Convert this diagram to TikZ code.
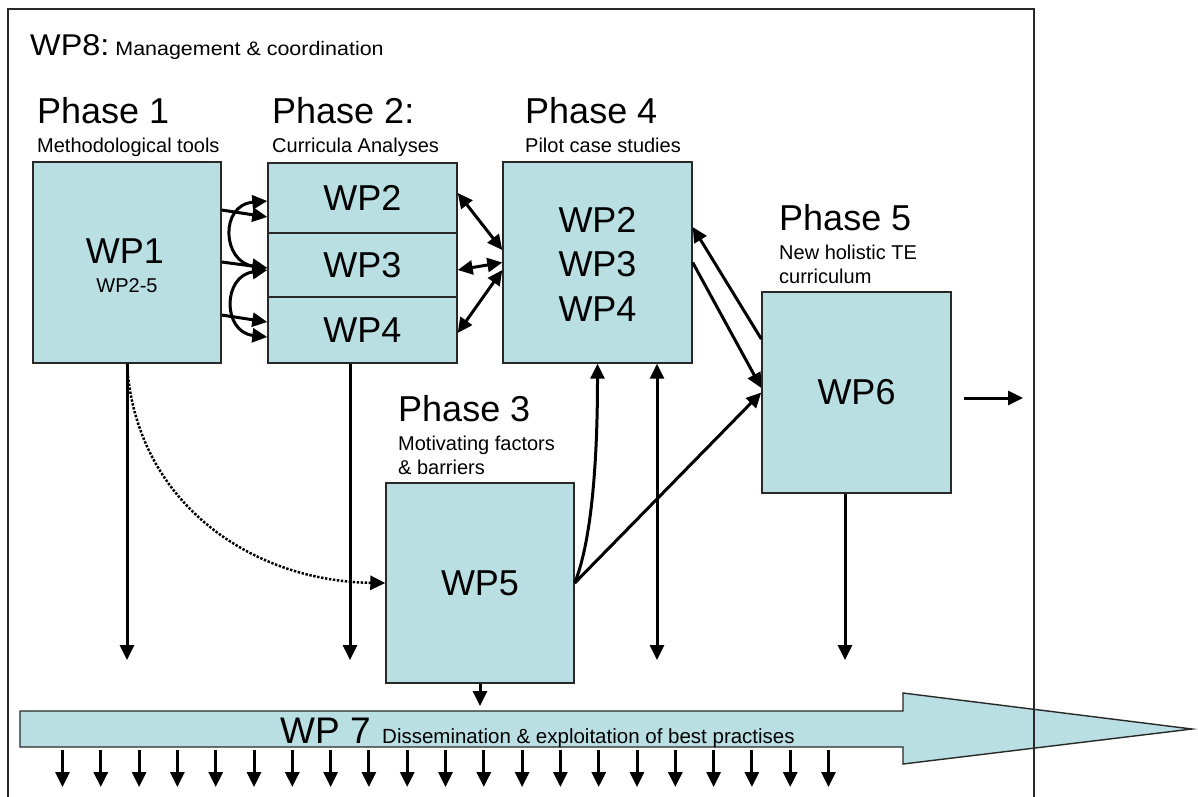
\documentclass[tikz,border=0pt]{standalone}
\usepackage{fontspec}
\usepackage{graphicx}
\setmainfont{Liberation Sans}
\usetikzlibrary{arrows.meta,calc}
\definecolor{boxfill}{RGB}{185,223,227}
\definecolor{boxline}{RGB}{40,40,40}
\newcommand\fsz[1]{\fontsize{#1}{#1}\selectfont}

\begin{document}
\begin{tikzpicture}[x=1pt,y=-1pt,
  wpbox/.style={draw=boxline,line width=1.4pt,fill=boxfill,inner sep=0pt,font=\fsz{36}},
  flow/.style={line width=3pt,-{Triangle[length=15pt,width=14pt]}},
  twoway/.style={line width=3pt,{Triangle[length=15pt,width=14pt]}-{Triangle[length=15pt,width=14pt]}},
  phase/.style={anchor=base west,inner sep=0pt,font=\fsz{36}},
  sub/.style={anchor=base west,inner sep=0pt,font=\fsz{20}},
  lbl/.style={anchor=base,inner sep=0pt}]
\useasboundingbox (0,0) rectangle (1198,796);

% WP7 dissemination arrow
\path[draw=boxline,line width=1.4pt,fill=boxfill]
  (20,711) -- (903,711) -- (903,693) -- (1192,729) -- (903,764) -- (903,747) -- (20,747) -- cycle;
\node[anchor=base west,inner sep=0pt,font=\fsz{37}] (wp7) at (280,743) {WP 7};
\node[anchor=base west,inner sep=0pt,font=\fsz{20.5}] (wp7s) at (382,743) {Dissemination \& exploitation of best practises};
\coordinate (wp7top) at (480,706);
\coordinate (barb) at (62.5,750);

% WP8 frame
\draw[line width=1.4pt,draw=boxline] (8,805) -- (8,9) -- (1034,9) -- (1034,805);
\node[anchor=base west,inner sep=0pt] (wp8) at (30,55)
  {\scalebox{1.08}[1]{\fsz{30}WP8:}\hspace{6pt}\scalebox{1.1}[1]{\fsz{19.5}Management \& coordination}};

% phase headings
\node[phase] (ph1) at (37,123) {Phase 1};
\node[sub]   (ph1s) at (37,152) {Methodological tools};
\node[phase] (ph2) at (272,123) {Phase 2:};
\node[sub]   (ph2s) at (272,152) {Curricula Analyses};
\node[phase] (ph4) at (525,123) {Phase 4};
\node[sub]   (ph4s) at (525,152) {Pilot case studies};
\node[phase] (ph5) at (779,230) {Phase 5};
\node[sub]   (ph5s) at (779,259) {New holistic TE};
\node[sub]   (ph5t) at (779,283) {curriculum};
\node[phase] (ph3) at (398,421) {Phase 3};
\node[sub]   (ph3s) at (398,450) {Motivating factors};
\node[sub]   (ph3t) at (398,474) {\& barriers};

% work package boxes
\node[wpbox,minimum width=188pt,minimum height=201pt] (wp1) at (127,262.5) {};
\node[lbl,font=\fsz{36}] (wp1a) at (125,263) {WP1};
\node[lbl,font=\fsz{20}] (wp1b) at (127,292) {WP2-5};
\node[wpbox,minimum width=189pt,minimum height=70pt] (wp2) at (362.5,198) {WP2};
\node[wpbox,minimum width=189pt,minimum height=64pt] (wp3) at (362.5,265) {WP3};
\node[wpbox,minimum width=189pt,minimum height=66pt] (wp4) at (362.5,330) {WP4};
\node[wpbox,minimum width=189pt,minimum height=201pt] (p4) at (597.5,262.5) {};
\node[lbl,font=\fsz{36}] (p4a) at (597.5,232) {WP2};
\node[lbl,font=\fsz{36}] (p4b) at (597.5,276) {WP3};
\node[lbl,font=\fsz{36}] (p4c) at (597.5,321) {WP4};
\node[wpbox,minimum width=189pt,minimum height=201pt] (wp6) at (856.5,392.5) {WP6};
\node[wpbox,minimum width=188pt,minimum height=200pt] (wp5) at (480,583) {WP5};

% free ends
\coordinate (e1) at (127,660);
\coordinate (e2) at (350,660);
\coordinate (e4) at (657,660);
\coordinate (e6) at (845,660);
\coordinate (e7) at (1023,398);

% phase 1 -> phase 2
\draw[flow] ([yshift=52.5pt]wp1.east) -- ([yshift=-19pt]wp2.west);
\draw[flow] ([yshift=0.5pt]wp1.east) -- ([yshift=-3pt]wp3.west);
\draw[flow] ([yshift=-52.5pt]wp1.east) -- ([yshift=8pt]wp4.west);
\draw[twoway] ([yshift=-3pt]wp3.west) .. controls +(-45,-6) and +(-48,4) .. ([yshift=-3pt]wp2.west);
\draw[twoway] ([yshift=-5pt]wp3.west) .. controls +(-45,6) and +(-45,-5) .. ([yshift=-7pt]wp4.west);

% phase 2 <-> phase 4
\draw[twoway] ([yshift=5pt]wp2.east) -- ([yshift=12.5pt]p4.west);
\draw[twoway] ([yshift=-5pt]wp3.east) -- (p4.west);
\draw[twoway] ([yshift=-3pt]wp4.east) -- ([yshift=-7.5pt]p4.west);

% phase 4 <-> phase 5
\draw[flow] ([yshift=53.5pt]wp6.west) -- ([yshift=35.5pt]p4.east);
\draw[flow] (p4.east) -- ([yshift=4.5pt]wp6.west);

% phase 3 links
\draw[flow] (wp5.east) -- (wp6.west);
\draw[flow] (wp5.east) .. controls +(18,-45) and +(0,90) .. (p4.south);
\draw[flow,line width=2.5pt,dash pattern=on 2.4pt off 1.6pt]
  (wp1.south) .. controls +(8,137) and +(-136,-2) .. (wp5.west);

% outputs towards dissemination
\draw[flow] (wp1.south) -- (e1);
\draw[flow] ([xshift=-12.5pt]wp4.south) -- (e2);
\draw[twoway] ([xshift=59.5pt]p4.south) -- (e4);
\draw[flow] ([xshift=-11.5pt]wp6.south) -- (e6);
\draw[flow] (wp5.south) -- (wp7top);
\draw[flow] ([xshift=12pt,yshift=-5.5pt]wp6.east) -- (e7);

% dissemination outputs
\foreach \i in {0,...,20}
  \draw[flow] ([xshift=\i*38.3pt]barb) -- ++(0,37);
\end{tikzpicture}
\end{document}
